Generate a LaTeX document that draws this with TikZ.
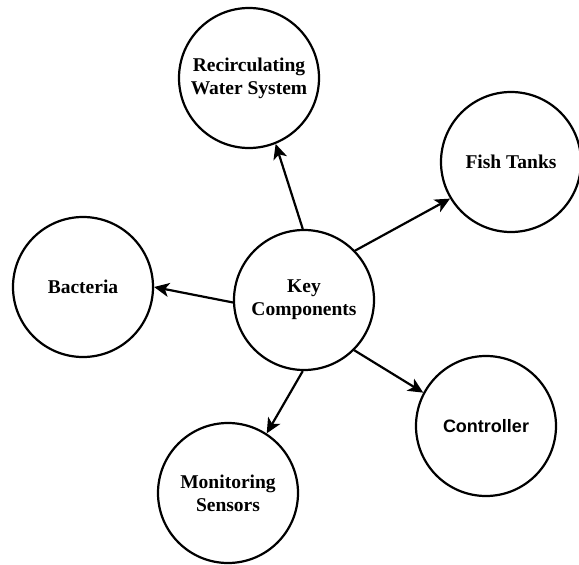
\documentclass[tikz,border=0pt]{standalone}
\usepackage{fontspec}
\setmainfont{Liberation Serif}
\newfontfamily\arialfont{Liberation Sans}
\usetikzlibrary{arrows.meta}
\begin{document}
\begin{tikzpicture}[x=1pt,y=-1pt,
  comp/.style={circle, draw, line width=2.2pt, minimum size=140pt, inner sep=0pt, align=center,
    font=\fontsize{19.5}{23}\selectfont\bfseries},
  link/.style={-{Stealth[length=15pt,width=14pt,inset=4pt]}, line width=2.2pt}]
\useasboundingbox (0,0) rectangle (579,565);
\node[comp] (kc) at (304,300) {Key\\Components};
\node[comp] (rws) at (249,78) {Recirculating\\Water System};
\node[comp] (ft) at (511,162) {Fish Tanks};
\node[comp] (b) at (83,287) {Bacteria};
\node[comp, font=\arialfont\fontsize{18}{21}\selectfont\bfseries] (c) at (486,426) {Controller};
\node[comp] (ms) at (228,493) {Monitoring\\Sensors};
\draw[link] (kc.44) -- (ft.211);
\draw[link] (kc.182) -- (b.0);
\draw[link] (kc.91) -- (rws.292);
\draw[link] (kc.-45) -- (c.152);
\draw[link] (kc.269) -- (ms.57);
\end{tikzpicture}
\end{document}
